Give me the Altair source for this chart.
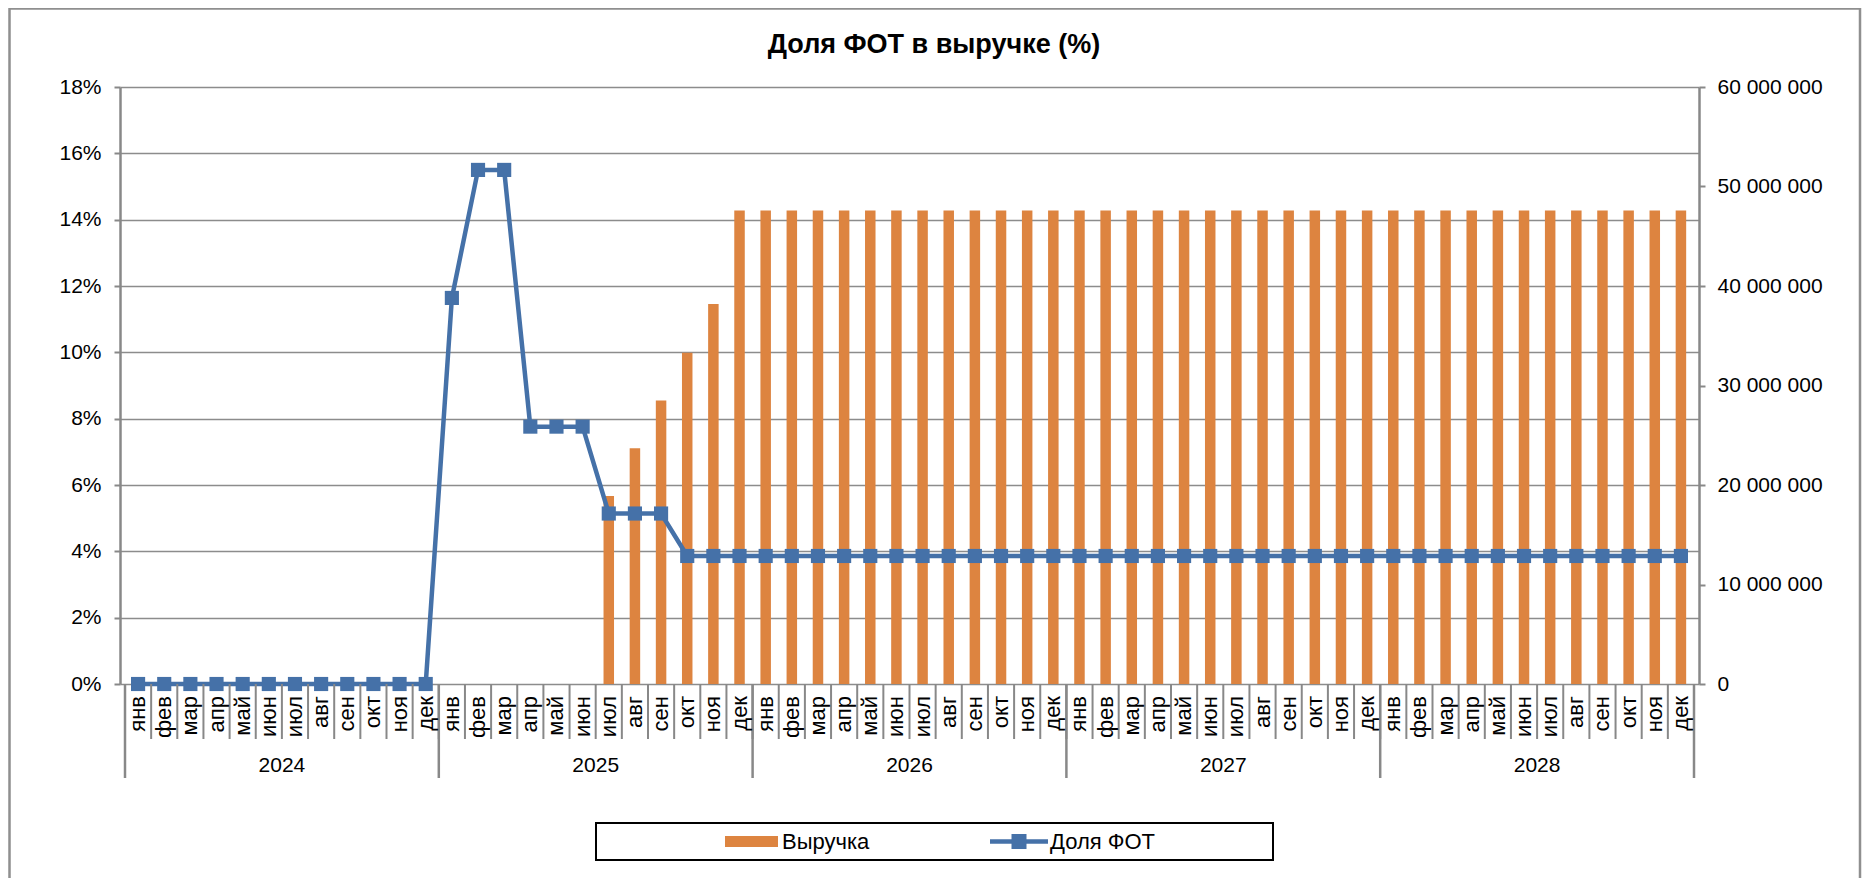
import altair as alt
import pandas as pd

# ---------------- data ----------------
months = ["янв", "фев", "мар", "апр", "май", "июн", "июл", "авг", "сен", "окт", "ноя", "дек"]
years = ["2024", "2025", "2026", "2027", "2028"]

revenue_2024 = [0, 0, 0, 0, 0, 0, 0, 0, 0, 0, 0, 0]
revenue_2025 = [0, 0, 0, 0, 0, 0, 18900000, 23700000, 28500000, 33300000, 38200000, 47600000]
revenue_2026 = [47600000, 47600000, 47600000, 47600000, 47600000, 47600000,
                47600000, 47600000, 47600000, 47600000, 47600000, 47600000]
revenue_2027 = [47600000, 47600000, 47600000, 47600000, 47600000, 47600000,
                47600000, 47600000, 47600000, 47600000, 47600000, 47600000]
revenue_2028 = [47600000, 47600000, 47600000, 47600000, 47600000, 47600000,
                47600000, 47600000, 47600000, 47600000, 47600000, 47600000]

share_2024 = [0, 0, 0, 0, 0, 0, 0, 0, 0, 0, 0, 0]
share_2025 = [0.1164, 0.155, 0.155, 0.0776, 0.0776, 0.0776, 0.0514, 0.0514, 0.0514, 0.0386, 0.0386, 0.0386]
share_2026 = [0.0386, 0.0386, 0.0386, 0.0386, 0.0386, 0.0386, 0.0386, 0.0386, 0.0386, 0.0386, 0.0386, 0.0386]
share_2027 = [0.0386, 0.0386, 0.0386, 0.0386, 0.0386, 0.0386, 0.0386, 0.0386, 0.0386, 0.0386, 0.0386, 0.0386]
share_2028 = [0.0386, 0.0386, 0.0386, 0.0386, 0.0386, 0.0386, 0.0386, 0.0386, 0.0386, 0.0386, 0.0386, 0.0386]

left_ticks = [0, 0.02, 0.04, 0.06, 0.08, 0.10, 0.12, 0.14, 0.16, 0.18]
right_ticks = [0, 10000000, 20000000, 30000000, 40000000, 50000000, 60000000]

title_text = "Доля ФОТ в выручке (%)"
legend_labels = ["Выручка", "Доля ФОТ"]

# ---------------- build tables ----------------
revenue_by_year = [revenue_2024, revenue_2025, revenue_2026, revenue_2027, revenue_2028]
share_by_year = [share_2024, share_2025, share_2026, share_2027, share_2028]

rows = []
for yi, yr in enumerate(years):
    for mi, m in enumerate(months):
        idx = yi * 12 + mi
        rows.append({"pos": idx + 0.5, "month": m, "year": yr,
                     "revenue": revenue_by_year[yi][mi], "share": share_by_year[yi][mi]})
df = pd.DataFrame(rows)
df_bar = df[df["revenue"] > 0]

n = len(df)
df_msep = pd.DataFrame({"b": list(range(n + 1))})
df_ysep = pd.DataFrame({"b": [i * 12 for i in range(len(years) + 1)]})
df_year = pd.DataFrame({"c": [i * 12 + 6 for i in range(len(years))], "year": years})

# ---------------- style ----------------
FONT = "Liberation Sans"
ORANGE = "#DD8440"
BLUE = "#4571A8"
GRAY = "#888888"
W, H = 1579, 597
PAD_L, PAD_T, PAD_R, PAD_B = 112, 79, 163, 194

xs = alt.X("pos:Q", scale=alt.Scale(domain=[0, n], nice=False, zero=False), axis=None)
xsep = alt.X("b:Q", scale=alt.Scale(domain=[0, n], nice=False, zero=False), axis=None)

bars = alt.Chart(df_bar).mark_bar(width=10.5, color=ORANGE).encode(
    x=xs,
    y=alt.Y("revenue:Q",
            scale=alt.Scale(domain=[0, 60000000], nice=False),
            axis=alt.Axis(orient="right", values=right_ticks, title="", grid=False,
                          labelExpr="replace(format(datum.value, ','), /,/g, ' ')",
                          labelPadding=12)),
)

line = alt.Chart(df).mark_line(color=BLUE, strokeWidth=4.5).encode(
    x=xs,
    y=alt.Y("share:Q",
            scale=alt.Scale(domain=[0, 0.18], nice=False),
            axis=alt.Axis(orient="left", values=left_ticks, format=".0%", title="",
                          grid=True, labelPadding=13)),
)

points = alt.Chart(df).mark_square(size=200, color=BLUE, opacity=1).encode(
    x=xs,
    y=alt.Y("share:Q", scale=alt.Scale(domain=[0, 0.18], nice=False), axis=None),
)

msep = alt.Chart(df_msep).mark_rule(color=GRAY, strokeWidth=2).encode(
    x=xsep, y=alt.value(H), y2=alt.value(H + 55))
ysep = alt.Chart(df_ysep).mark_rule(color=GRAY, strokeWidth=2.5).encode(
    x=xsep, y=alt.value(H), y2=alt.value(H + 94))

month_labels = alt.Chart(df).mark_text(
    angle=270, align="right", baseline="middle", font=FONT, fontSize=22, color="black"
).encode(x=xs, y=alt.value(H + 12), text="month:N")

year_labels = alt.Chart(df_year).mark_text(
    align="center", baseline="middle", font=FONT, fontSize=21, color="black"
).encode(x=alt.X("c:Q", scale=alt.Scale(domain=[0, n], nice=False, zero=False), axis=None),
         y=alt.value(H + 82), text="year:N")

title = alt.Chart(pd.DataFrame({"t": [title_text]})).mark_text(
    align="center", baseline="alphabetic", font=FONT, fontSize=27, fontWeight="bold", color="black"
).encode(x=alt.value(814), y=alt.value(-34), text="t:N")

border = alt.Chart(pd.DataFrame({"k": [0]})).mark_rect(
    fill="transparent", stroke="#8f8f8f", strokeWidth=2.5
).encode(x=alt.value(-PAD_L + 1.5), x2=alt.value(W + PAD_R - 2),
         y=alt.value(-PAD_T + 0.5), y2=alt.value(H + 400))

# legend
leg_box = alt.Chart(pd.DataFrame({"k": [0]})).mark_rect(
    fill="transparent", stroke="black", strokeWidth=2
).encode(x=alt.value(476), x2=alt.value(1153), y=alt.value(736), y2=alt.value(773))
leg_swatch = alt.Chart(pd.DataFrame({"k": [0]})).mark_rect(color=ORANGE).encode(
    x=alt.value(605), x2=alt.value(658), y=alt.value(749), y2=alt.value(760))
leg_line = alt.Chart(pd.DataFrame({"k": [0]})).mark_rule(color=BLUE, strokeWidth=4.5).encode(
    x=alt.value(870), x2=alt.value(928), y=alt.value(754.5))
leg_square = alt.Chart(pd.DataFrame({"k": [0]})).mark_square(size=225, color=BLUE, opacity=1).encode(
    x=alt.value(899), y=alt.value(754.5))
leg_text1 = alt.Chart(pd.DataFrame({"t": [legend_labels[0]]})).mark_text(
    align="left", baseline="middle", font=FONT, fontSize=22, color="black"
).encode(x=alt.value(662), y=alt.value(755), text="t:N")
leg_text2 = alt.Chart(pd.DataFrame({"t": [legend_labels[1]]})).mark_text(
    align="left", baseline="middle", font=FONT, fontSize=22, color="black"
).encode(x=alt.value(930), y=alt.value(755), text="t:N")

chart = alt.layer(
    border, bars, line, points, msep, ysep, month_labels, year_labels, title,
    leg_box, leg_swatch, leg_line, leg_square, leg_text1, leg_text2
).resolve_scale(y="independent").properties(
    width=W, height=H,
    padding={"left": PAD_L, "top": PAD_T, "right": PAD_R, "bottom": PAD_B},
    autosize=alt.AutoSizeParams(type="none"),
    background="white",
).configure_view(stroke="transparent").configure_axis(
    labelFont=FONT, labelFontSize=21, labelColor="black",
    domainColor=GRAY, domainWidth=2.5, tickColor=GRAY, tickWidth=2, tickSize=6,
    gridColor="#8c8c8c", gridWidth=1.5,
)

chart.save("out.html", embed_options={"renderer": "svg", "actions": False})
